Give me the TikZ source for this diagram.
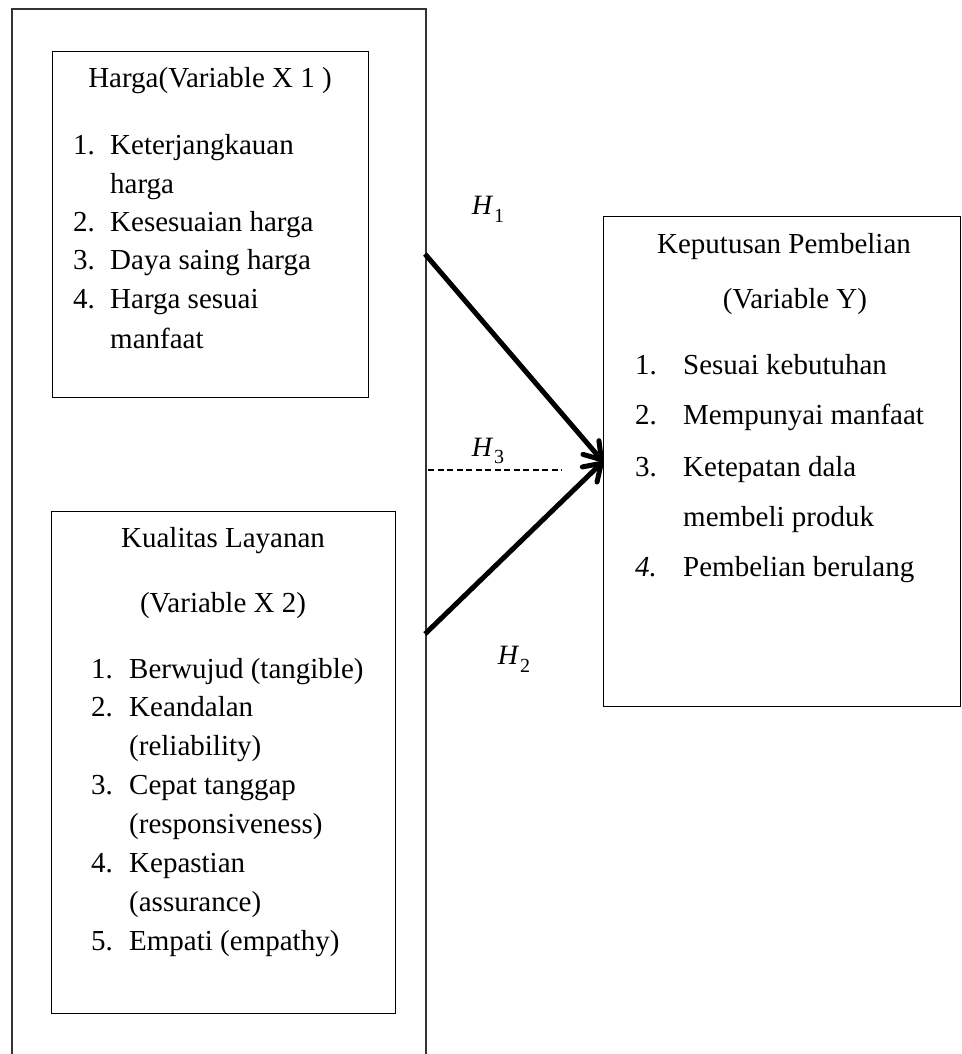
\documentclass[tikz,border=0pt]{standalone}
\usepackage{fontspec}
\setmainfont{Liberation Serif}
\usetikzlibrary{arrows.meta}
\newcommand{\hyp}[1]{\textit{H}\kern1pt\raisebox{-0.28em}{\fontsize{20}{21}\selectfont #1}}
\begin{document}
\begin{tikzpicture}[x=1pt,y=-1pt,
  frame/.style={draw=black!80, line width=1.2pt},
  box/.style={draw=black, line width=1.2pt, inner sep=0pt, anchor=north west},
  txt/.style={anchor=base west, inner sep=0pt, font=\fontsize{29}{34}\selectfont},
  ctxt/.style={anchor=base, inner sep=0pt, font=\fontsize{29}{34}\selectfont},
  hlab/.style={inner sep=0pt, font=\fontsize{28}{30}\selectfont},
  arr/.style={line width=5pt, -{Straight Barb[length=16pt,width=21pt,round]}},
  dashln/.style={line width=1.2pt, dash pattern=on 6pt off 3.5pt}
]
\useasboundingbox (0,0) rectangle (961,1054);
% outer frame, open at the bottom
\draw[frame] (12,1060) -- (12,9) -- (426,9) -- (426,1060);

% boxes
\node[box, minimum width=316pt, minimum height=346pt] (harga) at (52,51) {};
\node[box, minimum width=344pt, minimum height=502pt] (kual) at (51,511) {};
\node[box, minimum width=357pt, minimum height=490pt] (ybox) at (603,216) {};

% Harga text
\node[ctxt] (ht) at (210,88) {Harga(Variable X 1 )};
\node[txt] (hn1) at (73,154) {1.};
\node[txt] (hi1) at (110,154) {Keterjangkauan};
\node[txt] (hi1b) at (110,193) {harga};
\node[txt] (hn2) at (73,231) {2.};
\node[txt] (hi2) at (110,231) {Kesesuaian harga};
\node[txt] (hn3) at (73,269) {3.};
\node[txt] (hi3) at (110,269) {Daya saing harga};
\node[txt] (hn4) at (73,308) {4.};
\node[txt] (hi4) at (110,308) {Harga sesuai};
\node[txt] (hi4b) at (110,348) {manfaat};

% Kualitas text
\node[ctxt] (kt1) at (223,547) {Kualitas Layanan};
\node[ctxt] (kt2) at (223,612) {(Variable X 2)};
\node[txt] (kn1) at (91,678) {1.};
\node[txt] (ki1) at (129,678) {Berwujud (tangible)};
\node[txt] (kn2) at (91,716) {2.};
\node[txt] (ki2) at (129,716) {Keandalan};
\node[txt] (ki2b) at (129,755) {(reliability)};
\node[txt] (kn3) at (91,794) {3.};
\node[txt] (ki3) at (129,794) {Cepat tanggap};
\node[txt] (ki3b) at (129,833) {(responsiveness)};
\node[txt] (kn4) at (91,872) {4.};
\node[txt] (ki4) at (129,872) {Kepastian};
\node[txt] (ki4b) at (129,911) {(assurance)};
\node[txt] (kn5) at (91,950) {5.};
\node[txt] (ki5) at (129,950) {Empati (empathy)};

% Keputusan text
\node[ctxt] (yt1) at (784,253) {Keputusan Pembelian};
\node[ctxt] (yt2) at (795,308) {(Variable Y)};
\node[txt] (yn1) at (635,374) {1.};
\node[txt] (yi1) at (683,374) {Sesuai kebutuhan};
\node[txt] (yn2) at (635,424) {2.};
\node[txt] (yi2) at (683,424) {Mempunyai manfaat};
\node[txt] (yn3) at (635,476) {3.};
\node[txt] (yi3) at (683,476) {Ketepatan dala};
\node[txt] (yi3b) at (683,526) {membeli produk};
\node[txt] (yn4) at (635,576) {\textit{4.}};
\node[txt] (yi4) at (683,576) {Pembelian berulang};

% connectors
\coordinate (s1) at (425,254);
\coordinate (s2) at (425,634);
\coordinate (d1) at (428,470);
\coordinate (d2) at (562,470);
\draw[arr] (s1) -- (ybox.west);
\draw[arr] (s2) -- (ybox.west);
\draw[dashln] (d1) -- (d2);

% labels
\node[hlab] (lh1) at (488,209) {\hyp{1}};
\node[hlab] (lh3) at (488,451) {\hyp{3}};
\node[hlab] (lh2) at (514,659) {\hyp{2}};
\end{tikzpicture}
\end{document}
